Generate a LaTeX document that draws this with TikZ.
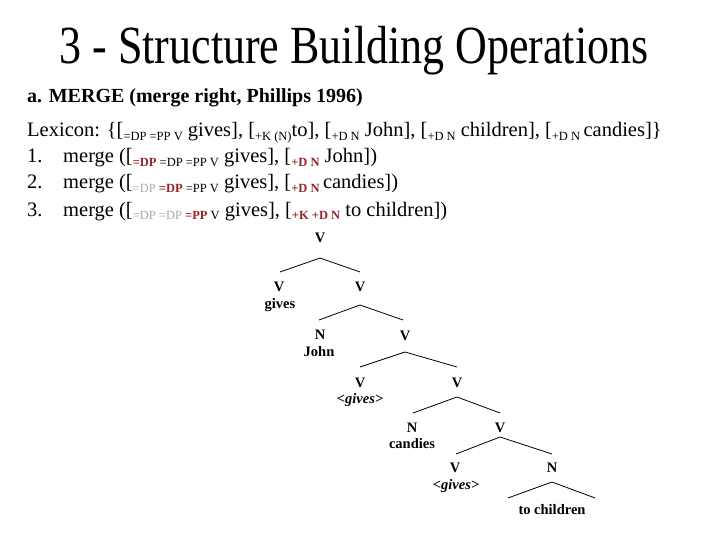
\documentclass[tikz,border=0pt]{standalone}
\usepackage{fontspec}
\setmainfont{Liberation Serif}
\definecolor{dred}{RGB}{150,35,40}
\definecolor{lgray}{RGB}{170,170,170}
\newcommand{\lsub}[1]{\raisebox{-3.5pt}{\fontsize{12.5}{13}\selectfont #1}}
\newcommand{\hl}[1]{\textcolor{dred}{\bfseries #1}}
\newcommand{\gr}[1]{\textcolor{lgray}{#1}}
\begin{document}
\begin{tikzpicture}[x=1pt,y=-1pt,
  body/.style={anchor=base west, inner sep=0, font=\fontsize{20.5}{24}\selectfont},
  lab/.style={anchor=base, inner sep=0, font=\fontsize{14.5}{16}\selectfont\bfseries},
  br/.style={line width=0.8pt}]
\useasboundingbox (0,0) rectangle (720,540);
% title
\node[anchor=base, inner sep=0] (title) at (354,64)
  {\scalebox{1}[1.22]{\fontsize{44}{48}\selectfont 3 - Structure Building Operations}};
\node[anchor=base west, inner sep=0, font=\fontsize{20}{24}\selectfont\bfseries] (sub) at (27,103)
  {a. MERGE (merge right, Phillips 1996)};
% lexicon
\node[body] (lex) at (27,137) {Lexicon: \{[\lsub{=DP =PP V} gives], [\lsub{+K (N)}to], [\lsub{+D N} John], [\lsub{+D N} children], [\lsub{+D N}\,candies]\}};
\node[body] (n1) at (27,163) {1.};
\node[body] (n2) at (27,189) {2.};
\node[body] (n3) at (27,216) {3.};
\node[body] (m1) at (63,163) {merge ([\lsub{\hl{=DP} =DP =PP V} gives], [\lsub{\hl{+D N}} John])};
\node[body] (m2) at (63,189) {merge ([\lsub{\gr{=DP} \hl{=DP} =PP V} gives], [\lsub{\hl{+D N}}\,candies])};
\node[body] (m3) at (63,216) {merge ([\lsub{\gr{=DP =DP} \hl{=PP} V} gives], [\lsub{\hl{+K +D N}} to children])};
% tree
\node[lab] (v0) at (320,243) {V};
\node[lab] (v1) at (279,291) {V};
\node[lab] (w1) at (280,308) {gives};
\node[lab] (v2) at (360,291) {V};
\node[lab] (n4) at (320,339) {N};
\node[lab] (w2) at (319,356) {John};
\node[lab] (v3) at (405,340) {V};
\node[lab] (v4) at (360,387) {V};
\node[lab] (w3) at (360,403) {\itshape <gives>};
\node[lab] (v5) at (457,387) {V};
\node[lab] (n5) at (412,432) {N};
\node[lab] (w4) at (412,448) {candies};
\node[lab] (v6) at (500,432) {V};
\node[lab] (v7) at (455,472) {V};
\node[lab] (w5) at (456,489) {\itshape <gives>};
\node[lab] (n6) at (552,472) {N};
\node[lab] (w6) at (552,514) {to children};
% branch points
\coordinate (a0) at (320,258); \coordinate (l0) at (280,272); \coordinate (r0) at (360,272);
\coordinate (a1) at (360,305); \coordinate (l1) at (319,320); \coordinate (r1) at (403,320);
\coordinate (a2) at (405,352); \coordinate (l2) at (360,367); \coordinate (r2) at (457,367);
\coordinate (a3) at (457,397); \coordinate (l3) at (413,413); \coordinate (r3) at (500,413);
\coordinate (a4) at (500,437); \coordinate (l4) at (456,454); \coordinate (r4) at (552,454);
\coordinate (a5) at (552,482); \coordinate (l5) at (508,498); \coordinate (r5) at (595,498);
\foreach \i in {0,...,5}{\draw[br] (l\i) -- (a\i) -- (r\i);}
\end{tikzpicture}
\end{document}
